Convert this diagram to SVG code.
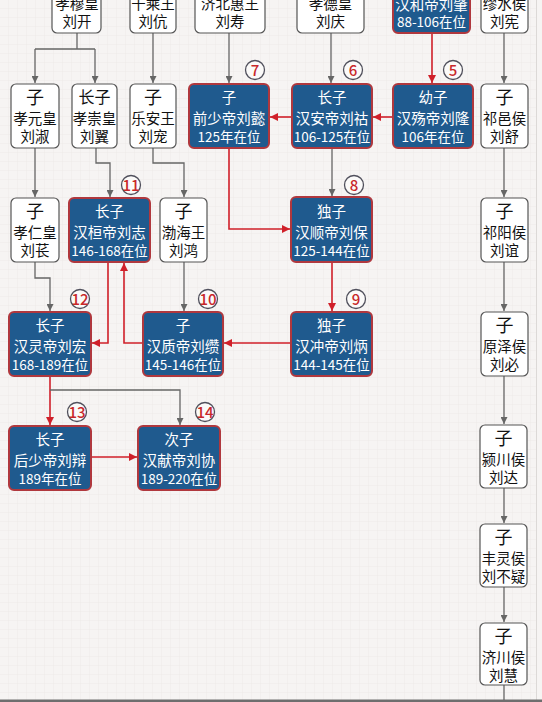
<svg xmlns="http://www.w3.org/2000/svg" width="542" height="702" viewBox="0 0 542 702">
<defs>
<pattern id="grid" width="9" height="9" patternUnits="userSpaceOnUse">
<path d="M9,0 V9 M0,9 H9" fill="none" stroke="#e9e5e3" stroke-width="0.6"/>
</pattern>
<marker id="ag" viewBox="0 0 8 8" refX="8" refY="4" markerWidth="7" markerHeight="7" markerUnits="userSpaceOnUse" orient="auto">
<path d="M0,0 L8,4 L0,8 Z" fill="#666"/>
</marker>
<marker id="ar" viewBox="0 0 8 8" refX="8" refY="4" markerWidth="8" markerHeight="8" markerUnits="userSpaceOnUse" orient="auto">
<path d="M0,0 L8,4 L0,8 Z" fill="#d0202a"/>
</marker>
</defs>
<style>
text{font-family:"Noto Sans CJK SC","Noto Sans",sans-serif;text-anchor:middle}
.w rect{fill:#fff;stroke:#555;stroke-width:1.2}
.w text{fill:#111;font-size:14.5px}
.w .h{font-size:18px}
.b rect{fill:#1f5a8e;stroke:#b0383e;stroke-width:2}
.b text{fill:#fff;font-size:14.5px}
.b .y{font-size:13.5px}
.g{fill:none;stroke:#666;stroke-width:1.3}
.r{fill:none;stroke:#d0202a;stroke-width:1.6}
.num circle{fill:#fbfaf9;stroke:#50505c;stroke-width:1.3}
.num text{fill:#c8282a;font-size:15px;font-weight:500}
</style>
<rect width="542" height="702" fill="#f6f4f3"/>
<rect width="536" height="700" fill="url(#grid)"/>
<line x1="536.5" y1="0" x2="536.5" y2="700" stroke="#dcd9d7" stroke-width="1"/>
<rect x="0" y="699.5" width="542" height="2.5" fill="#6e6e6e"/>

<g id="connectors">
<path class="g" d="M77,33 V49 M35,49 H95"/>
<path class="g" d="M35,49 V83" marker-end="url(#ag)"/>
<path class="g" d="M95,49 V83" marker-end="url(#ag)"/>
<path class="g" d="M153,33 V83" marker-end="url(#ag)"/>
<path class="g" d="M229,33 V83" marker-end="url(#ag)"/>
<path class="g" d="M331,33 V83" marker-end="url(#ag)"/>
<path class="g" d="M504,33 V83" marker-end="url(#ag)"/>
<path class="r" d="M432,33 V83" marker-end="url(#ar)"/>
<path class="r" d="M393,117 H373" marker-end="url(#ar)"/>
<path class="r" d="M292,117 H270" marker-end="url(#ar)"/>
<path class="g" d="M35,148 V197" marker-end="url(#ag)"/>
<path class="g" d="M96,148 V163 H110 V197" marker-end="url(#ag)"/>
<path class="g" d="M153,148 V163 H184 V197" marker-end="url(#ag)"/>
<path class="g" d="M332,148 V196" marker-end="url(#ag)"/>
<path class="g" d="M504,148 V197" marker-end="url(#ag)"/>
<path class="r" d="M229,148 V229 H290" marker-end="url(#ar)"/>
<path class="g" d="M35,262 V278 H50 V311" marker-end="url(#ag)"/>
<path class="g" d="M184,262 V311" marker-end="url(#ag)"/>
<path class="g" d="M504,262 V311" marker-end="url(#ag)"/>
<path class="r" d="M332,262 V311" marker-end="url(#ar)"/>
<path class="r" d="M291,343 H224" marker-end="url(#ar)"/>
<path class="r" d="M143,343 H124 V263" marker-end="url(#ar)"/>
<path class="r" d="M108,262 V343 H92" marker-end="url(#ar)"/>
<path class="r" d="M50,376 V425" marker-end="url(#ar)"/>
<path class="g" d="M50,390 H180 V425" marker-end="url(#ag)"/>
<path class="r" d="M91,457 H137" marker-end="url(#ar)"/>
<path class="g" d="M504,376 V424" marker-end="url(#ag)"/>
<path class="g" d="M504,488 V523" marker-end="url(#ag)"/>
<path class="g" d="M504,587 V622" marker-end="url(#ag)"/>
<path class="g" d="M504,685 V700"/>
</g>

<g id="n-liukai" class="w"><rect x="52" y="-31" width="49" height="64" rx="5"/><text x="77" y="9">孝穆皇</text><text x="77" y="27">刘开</text></g>
<g id="n-liukang" class="w"><rect x="130" y="-31" width="46" height="64" rx="5"/><text x="153" y="9">千乘王</text><text x="153" y="27">刘伉</text></g>
<g id="n-liushou" class="w"><rect x="195" y="-31" width="70" height="64" rx="5"/><text x="230" y="9">济北惠王</text><text x="230" y="27">刘寿</text></g>
<g id="n-liuqing" class="w"><rect x="297" y="-31" width="67" height="64" rx="5"/><text x="330.5" y="9">孝德皇</text><text x="330.5" y="27">刘庆</text></g>
<g id="n-liuzhao" class="b"><rect x="393" y="-31" width="77" height="64" rx="5"/><text x="431.5" y="10">汉和帝刘肇</text><text class="y" x="431.5" y="27">88-106在位</text></g>
<g id="n-liuxian" class="w"><rect x="481" y="-31" width="47" height="64" rx="5"/><text x="504.5" y="9">缪水侯</text><text x="504.5" y="27">刘宪</text></g>

<g id="n-liushu" class="w"><rect x="11" y="84" width="48" height="64" rx="5"/><text class="h" x="35" y="104">子</text><text x="35" y="124">孝元皇</text><text x="35" y="142">刘淑</text></g>
<g id="n-liuyi" class="w"><rect x="72" y="84" width="45" height="64" rx="5"/><text x="94.5" y="103" style="font-size:16px">长子</text><text x="94.5" y="124">孝崇皇</text><text x="94.5" y="142">刘翼</text></g>
<g id="n-liuchong" class="w"><rect x="130" y="84" width="46" height="64" rx="5"/><text class="h" x="153" y="104">子</text><text x="153" y="124">乐安王</text><text x="153" y="142">刘宠</text></g>
<g id="n-liuyi2" class="b"><rect x="189" y="84" width="80" height="64" rx="5"/><text x="229" y="103">子</text><text x="229" y="124">前少帝刘懿</text><text class="y" x="229" y="142">125年在位</text></g>
<g id="n-liuhu" class="b"><rect x="292" y="84" width="80" height="64" rx="5"/><text x="332" y="103">长子</text><text x="332" y="124">汉安帝刘祜</text><text class="y" x="332" y="142">106-125在位</text></g>
<g id="n-liulong" class="b"><rect x="393" y="84" width="80" height="64" rx="5"/><text x="433" y="103">幼子</text><text x="433" y="124">汉殇帝刘隆</text><text class="y" x="433" y="142">106年在位</text></g>
<g id="n-liushu2" class="w"><rect x="481" y="84" width="47" height="64" rx="5"/><text class="h" x="504.5" y="104">子</text><text x="504.5" y="124">祁邑侯</text><text x="504.5" y="142">刘舒</text></g>

<g id="n-liuchang" class="w"><rect x="11" y="198" width="48" height="64" rx="5"/><text class="h" x="35" y="218">子</text><text x="35" y="238">孝仁皇</text><text x="35" y="256">刘苌</text></g>
<g id="n-liuzhi" class="b"><rect x="69" y="198" width="81" height="64" rx="5"/><text x="109.5" y="217">长子</text><text x="109.5" y="238">汉桓帝刘志</text><text class="y" x="109.5" y="256">146-168在位</text></g>
<g id="n-liuhong" class="w"><rect x="160" y="198" width="47" height="64" rx="5"/><text class="h" x="183.5" y="218">子</text><text x="183.5" y="238">渤海王</text><text x="183.5" y="256">刘鸿</text></g>
<g id="n-liubao" class="b"><rect x="291" y="197" width="81" height="65" rx="5"/><text x="331.5" y="217">独子</text><text x="331.5" y="238">汉顺帝刘保</text><text class="y" x="331.5" y="256">125-144在位</text></g>
<g id="n-liuyi3" class="w"><rect x="481" y="198" width="47" height="64" rx="5"/><text class="h" x="504.5" y="218">子</text><text x="504.5" y="238">祁阳侯</text><text x="504.5" y="256">刘谊</text></g>

<g id="n-liuhong2" class="b"><rect x="9" y="312" width="82" height="64" rx="5"/><text x="50" y="331">长子</text><text x="50" y="352">汉灵帝刘宏</text><text class="y" x="50" y="370">168-189在位</text></g>
<g id="n-liuzuan" class="b"><rect x="143" y="312" width="80" height="64" rx="5"/><text x="183" y="331">子</text><text x="183" y="352">汉质帝刘缵</text><text class="y" x="183" y="370">145-146在位</text></g>
<g id="n-liubing" class="b"><rect x="291" y="312" width="81" height="64" rx="5"/><text x="331.5" y="331">独子</text><text x="331.5" y="352">汉冲帝刘炳</text><text class="y" x="331.5" y="370">144-145在位</text></g>
<g id="n-liubi" class="w"><rect x="481" y="312" width="47" height="64" rx="5"/><text class="h" x="504.5" y="332">子</text><text x="504.5" y="352">原泽侯</text><text x="504.5" y="370">刘必</text></g>

<g id="n-liubian" class="b"><rect x="9" y="426" width="82" height="64" rx="5"/><text x="50" y="445">长子</text><text x="50" y="466">后少帝刘辩</text><text class="y" x="50" y="484">189年在位</text></g>
<g id="n-liuxie" class="b"><rect x="138" y="426" width="82" height="64" rx="5"/><text x="179" y="445">次子</text><text x="179" y="466">汉献帝刘协</text><text class="y" x="179" y="484">189-220在位</text></g>
<g id="n-liuda" class="w"><rect x="480" y="425" width="47" height="63" rx="5"/><text class="h" x="503.5" y="445">子</text><text x="503.5" y="465">颍川侯</text><text x="503.5" y="483">刘达</text></g>
<g id="n-liubuyi" class="w"><rect x="480" y="524" width="47" height="63" rx="5"/><text class="h" x="503.5" y="544">子</text><text x="503.5" y="564">丰灵侯</text><text x="503.5" y="582">刘不疑</text></g>
<g id="n-liuhui" class="w"><rect x="480" y="623" width="47" height="62" rx="5"/><text class="h" x="503.5" y="643">子</text><text x="503.5" y="663">济川侯</text><text x="503.5" y="681">刘慧</text></g>

<g id="labels">
<g class="num"><circle cx="255" cy="70" r="9.5"/><text x="255" y="75.5">7</text></g>
<g class="num"><circle cx="353" cy="70" r="9.5"/><text x="353" y="75.5">6</text></g>
<g class="num"><circle cx="453" cy="70" r="9.5"/><text x="453" y="75.5">5</text></g>
<g class="num"><circle cx="131" cy="185" r="9.5"/><text x="131" y="190.5">11</text></g>
<g class="num"><circle cx="354" cy="185" r="9.5"/><text x="354" y="190.5">8</text></g>
<g class="num"><circle cx="80" cy="299" r="9.5"/><text x="80" y="304.5">12</text></g>
<g class="num"><circle cx="208" cy="299" r="9.5"/><text x="208" y="304.5">10</text></g>
<g class="num"><circle cx="356" cy="299" r="9.5"/><text x="356" y="304.5">9</text></g>
<g class="num"><circle cx="77" cy="412" r="9.5"/><text x="77" y="417.5">13</text></g>
<g class="num"><circle cx="205" cy="412" r="9.5"/><text x="205" y="417.5">14</text></g>
</g>
</svg>
